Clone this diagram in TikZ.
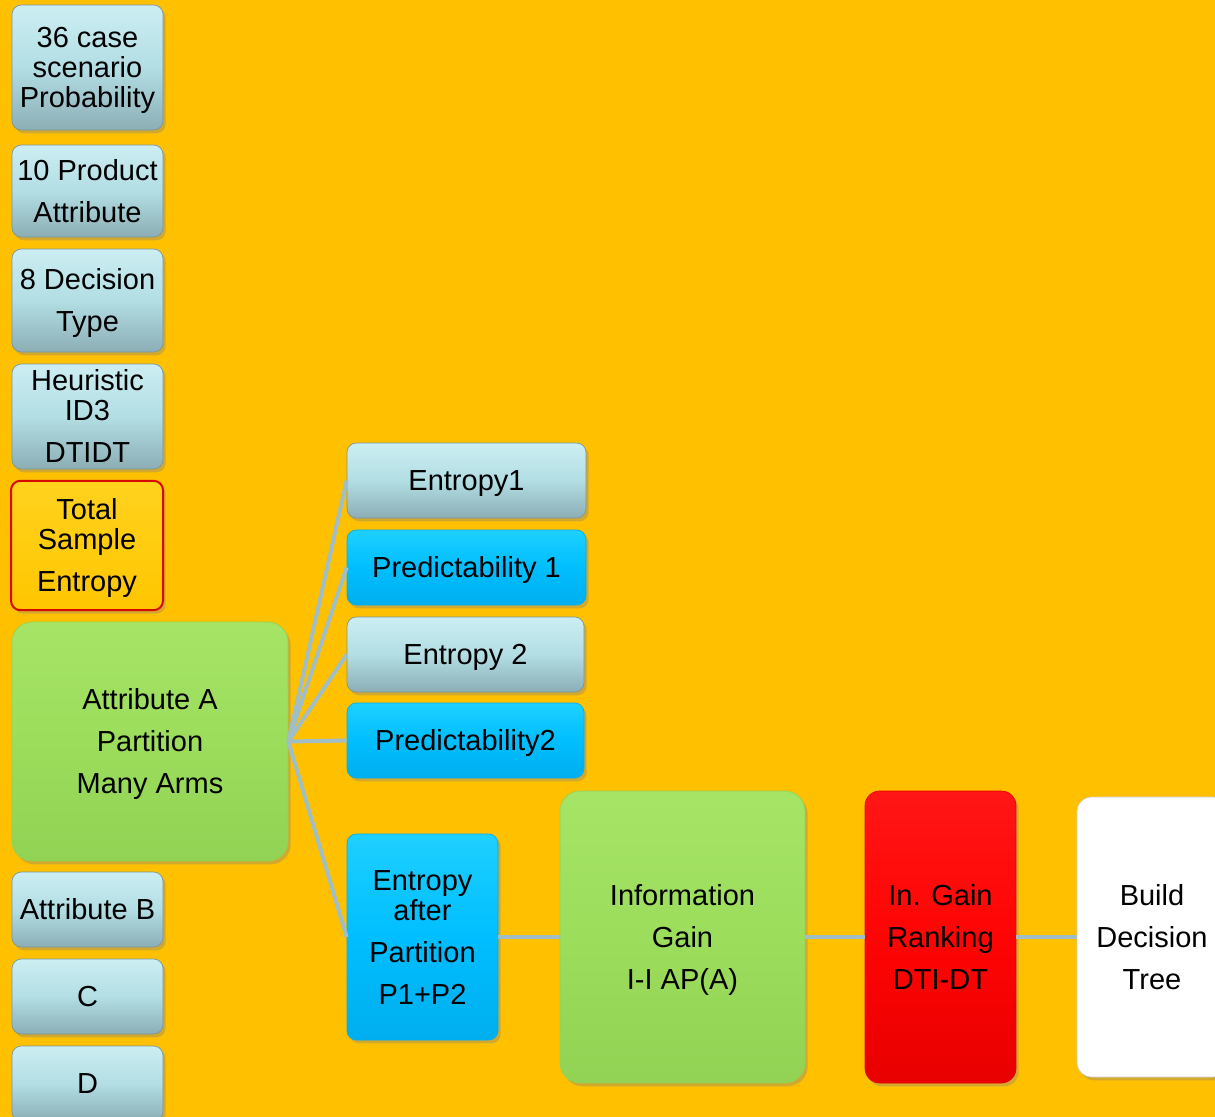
\documentclass[tikz,border=0pt]{standalone}
\usepackage{fontspec}
\setmainfont{Liberation Sans}
\usetikzlibrary{shadows}

\definecolor{bgorange}{RGB}{255,192,0}
\definecolor{bluetop}{RGB}{204,238,242}
\definecolor{bluemid}{RGB}{178,222,228}
\definecolor{bluebot}{RGB}{140,174,181}
\definecolor{blueedge}{RGB}{120,150,158}
\definecolor{cyantop}{RGB}{30,208,255}
\definecolor{cyanmid}{RGB}{0,190,255}
\definecolor{cyanbot}{RGB}{0,174,238}
\definecolor{greentop}{RGB}{166,228,102}
\definecolor{greenmid}{RGB}{156,221,92}
\definecolor{greenbot}{RGB}{146,210,84}
\definecolor{redtop}{RGB}{255,22,22}
\definecolor{redmid}{RGB}{255,4,4}
\definecolor{redbot}{RGB}{232,0,0}
\definecolor{yellowtop}{RGB}{255,210,30}
\definecolor{yellowbot}{RGB}{255,198,0}
\definecolor{linkgray}{RGB}{160,190,198}

% struts so text sits like the slide's line boxes
\newcommand{\boxtop}{\rule{0pt}{19.7pt}}
\newcommand{\boxbot}{\rule[-4.6pt]{0pt}{4.6pt}}

\tikzset{every picture/.style={line width=0.75pt}}
\tikzset{
  gelbox/.style={rounded corners=7pt, inner sep=0pt, align=center,
    font=\fontsize{21.75}{22.5}\selectfont,
    drop shadow={shadow xshift=2pt, shadow yshift=-2.5pt, opacity=.35}},
  bluebox/.style={gelbox, draw=blueedge, line width=0.5pt,
    top color=bluetop, bottom color=bluebot, middle color=bluemid},
  cyanbox/.style={gelbox, draw=cyanbot, line width=0.5pt,
    top color=cyantop, bottom color=cyanbot, middle color=cyanmid},
  greenbox/.style={gelbox, rounded corners=15pt, draw=greenbot, line width=0.5pt,
    top color=greentop, bottom color=greenbot, middle color=greenmid},
  redbox/.style={gelbox, rounded corners=11pt, draw=redbot, line width=0.5pt,
    top color=redtop, bottom color=redbot, middle color=redmid},
  yellowbox/.style={gelbox, draw={rgb,255:red,215;green,10;blue,0}, line width=1.5pt,
    top color=yellowtop, bottom color=yellowbot},
  whitebox/.style={gelbox, rounded corners=11pt, fill=white, draw=black!20, line width=0.5pt},
  link/.style={draw=linkgray, line width=3pt}
}

\begin{document}
\begin{tikzpicture}[x=0.75pt,y=0.75pt,yscale=-1,xscale=1]
%set diagram left start at 0, and has height of 1117
\path[use as bounding box, fill=bgorange] (0,0) rectangle (1215,1117);

%Left column
\node[bluebox, minimum width=113.25pt, minimum height=93.75pt] (prob) at (87.5,67.5) {\boxtop 36 case\\scenario\\Probability\boxbot};
\node[bluebox, minimum width=113.25pt, minimum height=69pt] (prod) at (87.5,191) {\boxtop 10 Product\\[9pt]Attribute\boxbot};
\node[bluebox, minimum width=113.25pt, minimum height=77.25pt] (dec) at (87.5,300.5) {\boxtop 8 Decision\\[9pt]Type\boxbot};
\node[bluebox, minimum width=113.25pt, minimum height=78.75pt] (heur) at (87.5,416.5) {\boxtop Heuristic\\ID3\\[9pt]DTIDT\boxbot};
\node[yellowbox, minimum width=114pt, minimum height=97pt] (total) at (87,545.5) {\boxtop Total\\Sample\\[9pt]Entropy\boxbot};
\node[greenbox, minimum width=207pt, minimum height=179.25pt] (attrA) at (150,741.5) {\boxtop Attribute A\\[9pt]Partition\\[9pt]Many Arms\boxbot};
\node[bluebox, minimum width=113.25pt, minimum height=56.25pt] (attrB) at (87.5,909.5) {\boxtop Attribute B\boxbot};
\node[bluebox, minimum width=113.25pt, minimum height=56.25pt] (attrC) at (87.5,996.5) {\boxtop C\boxbot};
\node[bluebox, minimum width=113.25pt, minimum height=56.25pt] (attrD) at (87.5,1083.5) {\boxtop D\boxbot};

%Arms
\node[bluebox, minimum width=179.25pt, minimum height=56.25pt] (ent1) at (466.5,480.5) {\boxtop Entropy1\boxbot};
\node[cyanbox, minimum width=179.25pt, minimum height=56.25pt] (pred1) at (466.5,567.5) {\boxtop Predictability 1\boxbot};
\node[bluebox, minimum width=177.75pt, minimum height=56.25pt] (ent2) at (465.5,654.5) {\boxtop Entropy 2\boxbot};
\node[cyanbox, minimum width=177.75pt, minimum height=56.25pt] (pred2) at (465.5,740.5) {\boxtop Predictability2\boxbot};
\node[cyanbox, minimum width=113.25pt, minimum height=154.5pt] (entP) at (422.5,937) {\boxtop Entropy\\after\\[9pt]Partition\\[9pt]P1+P2\boxbot};

%Bottom row
\node[greenbox, minimum width=183.75pt, minimum height=219pt] (info) at (682.5,937) {\boxtop Information\\[9pt]Gain\\[9pt]I-I AP(A)\boxbot};
\node[redbox, minimum width=113.25pt, minimum height=219pt] (rank) at (940.5,937) {\boxtop In. Gain\\[9pt]Ranking\\[9pt]DTI-DT\boxbot};
\node[whitebox, minimum width=112.5pt, minimum height=210pt] (build) at (1152,937) {\boxtop Build\\[9pt]Decision\\[9pt]Tree\boxbot};

%Straight Lines
\draw[link] (attrA.east) -- (ent1.west);
\draw[link] (attrA.east) -- (pred1.west);
\draw[link] (attrA.east) -- (ent2.west);
\draw[link] (attrA.east) -- (pred2.west);
\draw[link] (attrA.east) -- (entP.west);
\draw[link] (entP.east) -- (info.west);
\draw[link] (info.east) -- (rank.west);
\draw[link] (rank.east) -- (build.west);

\end{tikzpicture}
\end{document}
